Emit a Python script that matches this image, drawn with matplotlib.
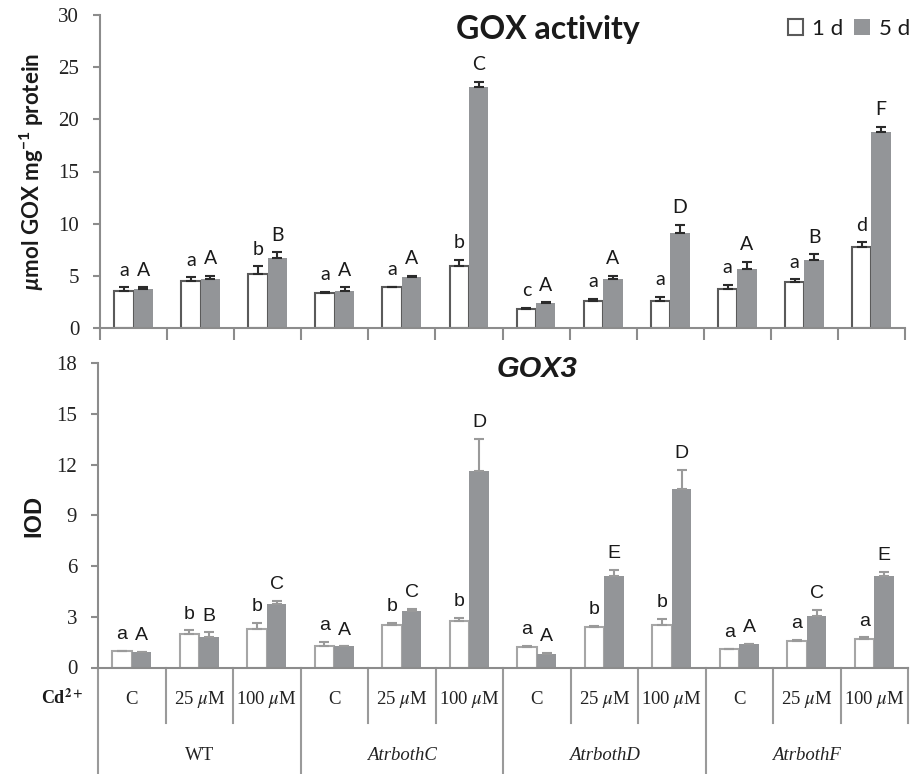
import matplotlib
matplotlib.use("Agg")
import matplotlib.pyplot as plt
from matplotlib.patches import Patch
import numpy as np

# custom math fonts for the bold sans y-label (µ, superscript)
plt.rcParams["mathtext.fontset"] = "custom"
plt.rcParams["mathtext.rm"] = "Lato:bold"
plt.rcParams["mathtext.it"] = "Lato:italic:bold"
plt.rcParams["mathtext.bf"] = "Lato:bold"

genotypes = ["WT", "AtrbothC", "AtrbothD", "AtrbothF"]
doses = ["C", "25 $\\mu$M", "100 $\\mu$M"]

# GOX activity (µmol GOX mg-1 protein), order: genotype x dose
gox_1d = [3.5, 4.5, 5.2, 3.35, 3.9, 5.9, 1.85, 2.6, 2.6, 3.75, 4.45, 7.8]
gox_1d_err = [0.4, 0.35, 0.7, 0.08, 0.05, 0.6, 0.05, 0.2, 0.4, 0.35, 0.2, 0.4]
gox_5d = [3.7, 4.7, 6.7, 3.55, 4.9, 23.1, 2.35, 4.7, 9.1, 5.7, 6.5, 18.8]
gox_5d_err = [0.2, 0.3, 0.55, 0.35, 0.1, 0.5, 0.1, 0.3, 0.75, 0.6, 0.55, 0.5]
gox_1d_lab = ["a", "a", "b", "a", "a", "b", "c", "a", "a", "a", "a", "d"]
gox_5d_lab = ["A", "A", "B", "A", "A", "C", "A", "A", "D", "A", "B", "F"]

# GOX3 expression (IOD)
gox3_1d = [0.95, 1.97, 2.3, 1.3, 2.52, 2.74, 1.21, 2.4, 2.54, 1.08, 1.54, 1.66]
gox3_1d_err = [0.05, 0.22, 0.32, 0.22, 0.1, 0.21, 0.09, 0.08, 0.31, 0.04, 0.11, 0.12]
gox3_5d = [0.9, 1.78, 3.74, 1.25, 3.32, 11.62, 0.78, 5.38, 10.56, 1.38, 3.07, 5.38]
gox3_5d_err = [0.0, 0.29, 0.19, 0.0, 0.16, 1.9, 0.09, 0.41, 1.14, 0.0, 0.33, 0.28]
gox3_1d_lab = ["a", "b", "b", "a", "b", "b", "a", "b", "b", "a", "a", "a"]
gox3_5d_lab = ["A", "B", "C", "A", "C", "D", "A", "E", "D", "A", "C", "E"]

W, H = 911, 774
fig = plt.figure(figsize=(W / 100, H / 100), dpi=100)
ax1 = fig.add_axes([100 / W, 446 / H, 805 / W, 313 / H])
ax2 = fig.add_axes([98 / W, 106.5 / H, 810 / W, 304.5 / H])

x = np.arange(len(gox_1d))
bw = 0.29
fill5 = "#939598"
spine_c = "#8c8c8c"


def draw_panel(ax, v1, e1, v5, e5, l1, l5, edge1, errc, lab_font, lab_size):
    ax.bar(x - bw / 2, v1, bw, color="white", edgecolor=edge1, linewidth=1.5,
           zorder=2)
    ax.bar(x + bw / 2, v5, bw, color=fill5, edgecolor="none", zorder=2)
    ax.errorbar(x - bw / 2, v1, yerr=[np.zeros(len(e1)), e1], fmt="none",
                ecolor=errc, elinewidth=1.5, capsize=3.6, capthick=1.5, zorder=3)
    ax.errorbar(x + bw / 2, v5, yerr=[np.zeros(len(e5)), e5], fmt="none",
                ecolor=errc, elinewidth=1.5, capsize=3.6, capthick=1.5, zorder=3)
    for i in range(len(v1)):
        ax.annotate(l1[i], (x[i] - bw / 2, v1[i] + e1[i]), xytext=(0, 8.5),
                    textcoords="offset points", ha="center", va="baseline",
                    family=lab_font, fontsize=lab_size, color="#1a1a1a")
        ax.annotate(l5[i], (x[i] + bw / 2, v5[i] + e5[i]), xytext=(0, 8.5),
                    textcoords="offset points", ha="center", va="baseline",
                    family=lab_font, fontsize=lab_size, color="#1a1a1a")
    ax.set_xlim(-0.5, len(x) - 0.5)
    for side in ("top", "right"):
        ax.spines[side].set_visible(False)
    for side in ("left", "bottom"):
        ax.spines[side].set_color(spine_c)
        ax.spines[side].set_linewidth(1.5)
    ax.tick_params(axis="y", direction="out", length=5, width=1.5,
                   color=spine_c, pad=10, labelsize=15)


# top panel: GOX activity
draw_panel(ax1, gox_1d, gox_1d_err, gox_5d, gox_5d_err, gox_1d_lab, gox_5d_lab,
           "#5a5a5a", "#2b2b2b", "Lato", 14)
ax1.set_ylim(0, 30)
ax1.set_yticks(range(0, 31, 5))
for t in ax1.get_yticklabels():
    t.set_family("Liberation Serif")
    t.set_color("#222222")
ax1.set_xticks(np.arange(-0.5, len(x), 1.0))
ax1.set_xticklabels([])
ax1.tick_params(axis="x", direction="out", length=8.6, width=1.5, color=spine_c)

fig.text(548 / W, 1 - 30 / H, "GOX activity", family="Lato", fontweight="bold",
         fontsize=23, ha="center", va="center", color="#1a1a1a")
fig.text(32 / W, 1 - 172 / H, "$\\mathit{µ}$mol GOX mg$^{-1}$ protein",
         family="Lato", fontweight="bold", fontsize=16, rotation=90,
         ha="center", va="center", math_fontfamily="custom", color="#1a1a1a")

handles = [Patch(facecolor="white", edgecolor="#5a5a5a", linewidth=1.5),
           Patch(facecolor=fill5, edgecolor="none")]
leg = fig.legend(handles, ["1 d", "5 d"], loc="center right",
                 bbox_to_anchor=(910 / W, 1 - 29 / H), ncol=2, frameon=False,
                 prop={"family": "Lato", "size": 16}, handlelength=0.7,
                 handleheight=0.7, handletextpad=0.4, columnspacing=0.5,
                 borderpad=0, borderaxespad=0)
for t in leg.get_texts():
    t.set_color("#1a1a1a")

# bottom panel: GOX3 expression
draw_panel(ax2, gox3_1d, gox3_1d_err, gox3_5d, gox3_5d_err, gox3_1d_lab,
           gox3_5d_lab, "#a6a6a6", "#9a9a9a", "Liberation Sans", 14)
ax2.set_ylim(0, 18)
ax2.set_yticks(range(0, 19, 3))
for t in ax2.get_yticklabels():
    t.set_family("Liberation Serif")
    t.set_color("#222222")
ax2.set_xticks([])

fig.text(537 / W, 1 - 369 / H, "GOX3", family="Liberation Sans",
         fontweight="bold", fontstyle="italic", fontsize=21, ha="center",
         va="center", color="#1a1a1a")
fig.text(34 / W, 1 - 516 / H, "IOD", family="Liberation Sans",
         fontweight="bold", fontsize=17, rotation=90, ha="center", va="center",
         color="#1a1a1a")

# category table under the bottom axis
tr = ax2.get_xaxis_transform()
ax_h = 304.5
y_row = -(723 - 667.5) / ax_h
y_bot = -(774 - 667.5) / ax_h
y_dose = -(700 - 667.5) / ax_h
y_geno = -(755 - 667.5) / ax_h
for b in np.arange(-0.5, len(x), 1.0):
    idx = int(round(b + 0.5))
    long_line = idx % 3 == 0 and idx < len(x)
    ax2.plot([b, b], [0, y_bot if long_line else y_row], transform=tr,
             color="#9a9a9a", lw=1.5, clip_on=False)
for i in range(len(x)):
    ax2.text(x[i], y_dose, doses[i % 3], transform=tr, ha="center",
             va="center", family="Liberation Serif", fontsize=13.5,
             math_fontfamily="stix", color="#222222")
for g, name in enumerate(genotypes):
    ax2.text(3 * g + 1, y_geno, name, transform=tr, ha="center", va="center",
             family="Liberation Serif", fontsize=13.5,
             fontstyle="normal" if name == "WT" else "italic", color="#222222")
ax2.text(-(98 - 83) / 810, y_dose + 0.005, "Cd$^{\\mathbf{2+}}$",
         transform=ax2.transAxes, ha="right", va="center",
         family="Liberation Serif", fontweight="bold", fontsize=13,
         math_fontfamily="stix", color="#1a1a1a")

fig.savefig("out.png", dpi=100)
